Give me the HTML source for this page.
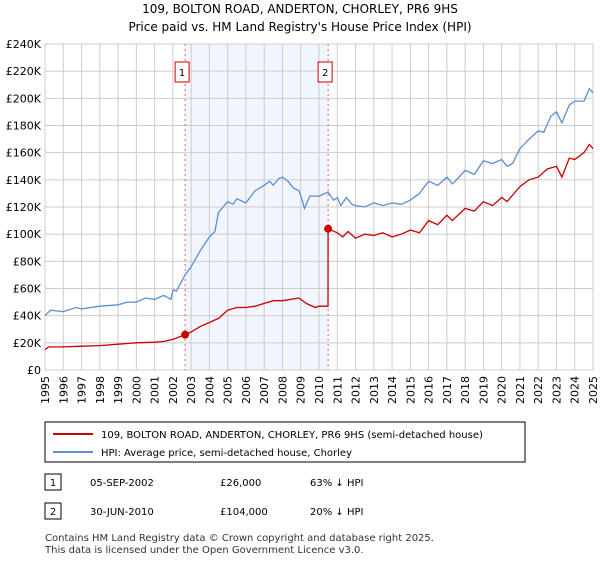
<!DOCTYPE html>
<html><head><meta charset="utf-8"><style>
body{margin:0;background:#fff;font-family:"Liberation Sans","DejaVu Sans",sans-serif;}
svg text{font-family:"DejaVu Sans","Liberation Sans",sans-serif;}
</style></head><body>
<svg id="c" width="600" height="560" xmlns="http://www.w3.org/2000/svg">
<text x="300" y="13" text-anchor="middle" font-size="12">109, BOLTON ROAD, ANDERTON, CHORLEY, PR6 9HS</text>
<text x="300" y="31" text-anchor="middle" font-size="12">Price paid vs. HM Land Registry's House Price Index (HPI)</text>
<g id="plot"></g>
<rect x="45" y="422" width="480" height="40" fill="#fff" stroke="#000" stroke-width="1"/>
<line x1="53" y1="434" x2="93" y2="434" stroke="#cc0000" stroke-width="2"/>
<text x="101" y="438" font-size="10">109, BOLTON ROAD, ANDERTON, CHORLEY, PR6 9HS (semi-detached house)</text>
<line x1="53" y1="452" x2="93" y2="452" stroke="#5b8fd4" stroke-width="2"/>
<text x="101" y="456" font-size="10">HPI: Average price, semi-detached house, Chorley</text>
<rect x="45" y="474" width="16" height="16" fill="#fff" stroke="#000"/>
<text x="53" y="486" font-size="10" text-anchor="middle">1</text>
<text x="90" y="486" font-size="10">05-SEP-2002</text>
<text x="220" y="486" font-size="10">£26,000</text>
<text x="310" y="486" font-size="10">63% ↓ HPI</text>
<rect x="45" y="503" width="16" height="16" fill="#fff" stroke="#000"/>
<text x="53" y="515" font-size="10" text-anchor="middle">2</text>
<text x="90" y="515" font-size="10">30-JUN-2010</text>
<text x="220" y="515" font-size="10">£104,000</text>
<text x="310" y="515" font-size="10">20% ↓ HPI</text>
<text x="45" y="541" font-size="10" fill="#333">Contains HM Land Registry data © Crown copyright and database right 2025.</text>
<text x="45" y="553" font-size="10" fill="#333">This data is licensed under the Open Government Licence v3.0.</text>
</svg>
<script>
const yTicks=[0,20,40,60,80,100,120,140,160,180,200,220,240];
const yTickLabels=["£0","£20K","£40K","£60K","£80K","£100K","£120K","£140K","£160K","£180K","£200K","£220K","£240K"];
const years=[1995,1996,1997,1998,1999,2000,2001,2002,2003,2004,2005,2006,2007,2008,2009,2010,2011,2012,2013,2014,2015,2016,2017,2018,2019,2020,2021,2022,2023,2024,2025];
const hpiT=[1995,1995.3,1996,1996.7,1997,1998,1999,1999.5,2000,2000.5,2001,2001.5,2001.9,2002,2002.2,2002.67,2003,2003.5,2004,2004.3,2004.5,2005,2005.3,2005.5,2006,2006.5,2007,2007.3,2007.5,2007.8,2008,2008.3,2008.6,2008.9,2009.1,2009.2,2009.5,2010,2010.5,2010.8,2011,2011.2,2011.5,2011.8,2012,2012.5,2013,2013.5,2014,2014.5,2015,2015.5,2016,2016.5,2017,2017.3,2017.6,2018,2018.5,2019,2019.5,2020,2020.3,2020.6,2021,2021.5,2022,2022.3,2022.7,2023,2023.3,2023.7,2024,2024.5,2024.8,2025];
const hpiV=[40,44,43,46,45,47,48,50,50,53,52,55,52,59,58,70,76,88,98,102,116,124,122,126,123,132,136,139,136,141,142,139,134,132,124,119,128,128,131,125,127,121,127,122,121,120,123,121,123,122,125,130,139,136,142,137,141,147,144,154,152,155,150,152,163,170,176,175,187,190,182,195,198,198,207,204];
const ppT=[1995,1995.2,1996,1997,1998,1999,2000,2001,2001.5,2002,2002.67,2003,2003.5,2004,2004.5,2005,2005.5,2006,2006.5,2007,2007.5,2008,2008.9,2009.3,2009.8,2010,2010.49,2010.5,2011,2011.3,2011.6,2012,2012.5,2013,2013.5,2014,2014.5,2015,2015.5,2016,2016.5,2017,2017.3,2018,2018.5,2019,2019.5,2020,2020.3,2021,2021.5,2022,2022.5,2023,2023.3,2023.7,2024,2024.5,2024.8,2025];
const ppV=[15,17,17,17.5,18,19,20,20.5,21,22.5,26,28,32,35,38,44,46,46,47,49,51,51,53,49,46,47,47,104,101,98,102,97,100,99,101,98,100,103,101,110,107,114,110,119,117,124,121,127,124,135,140,142,148,150,142,156,155,160,166,163];
const sales=[{t:2002.67,v:26,n:"1"},{t:2010.5,v:104,n:"2"}];
const X0=45,X1=593,Y0=370,Y1=44;
const xs=t=>X0+(t-1995)/30*(X1-X0), ys=v=>Y0-v/240*(Y0-Y1);
const NS="http://www.w3.org/2000/svg", g=document.getElementById('plot');
function mk(tag,a){const e=document.createElementNS(NS,tag);for(const k in a)e.setAttribute(k,a[k]);g.appendChild(e);return e;}
let e=mk('rect',{x:xs(sales[0].t),y:Y1,width:xs(sales[1].t)-xs(sales[0].t),height:Y0-Y1,fill:'#eef3fc',opacity:0.8});


yTicks.forEach((v,i)=>{
 let l=mk('line',{x1:X0,x2:X1,y1:ys(v),y2:ys(v),stroke:'#ccc','stroke-width':1});
 
 
 let t=mk('text',{x:X0-4,y:ys(v)+4,'text-anchor':'end','font-size':11});t.textContent=yTickLabels[i];
 
 
});
years.forEach(y=>{
 let l=mk('line',{x1:xs(y),x2:xs(y),y1:Y1,y2:Y0,stroke:'#ccc','stroke-width':1});
 
 
 let t=mk('text',{x:0,y:0,'font-size':11,'text-anchor':'end',transform:`translate(${xs(y)+4},${Y0+6}) rotate(-90)`});t.textContent=y;
 
 
});
e=mk('rect',{x:X0,y:Y1,width:X1-X0,height:Y0-Y1,fill:'none',stroke:'#ccc'});


sales.forEach(s=>{
 let l=mk('line',{x1:xs(s.t),x2:xs(s.t),y1:Y1,y2:Y0,stroke:'#e06060','stroke-width':1,'stroke-dasharray':'2,3'});
 
 
 let r=mk('rect',{x:xs(s.t)-10,y:62,width:14,height:20,fill:'#fff',stroke:'#cc0000'});
 
 
 let t=mk('text',{x:xs(s.t)-3,y:76,'text-anchor':'middle','font-size':10});t.textContent=s.n;
 
 
});
const path=(T,V)=>T.map((t,i)=>(i?'L':'M')+xs(t).toFixed(1)+','+ys(V[i]).toFixed(1)).join('');
e=mk('path',{d:path(hpiT,hpiV),fill:'none',stroke:'#5b8fd4','stroke-width':1.3});


e=mk('path',{d:path(ppT,ppV),fill:'none',stroke:'#cc0000','stroke-width':1.3});


sales.forEach(s=>{
 let c=mk('circle',{cx:xs(s.t),cy:ys(s.v),r:4,fill:'#cc0000'});
 
 
});
</script>
</body></html>
